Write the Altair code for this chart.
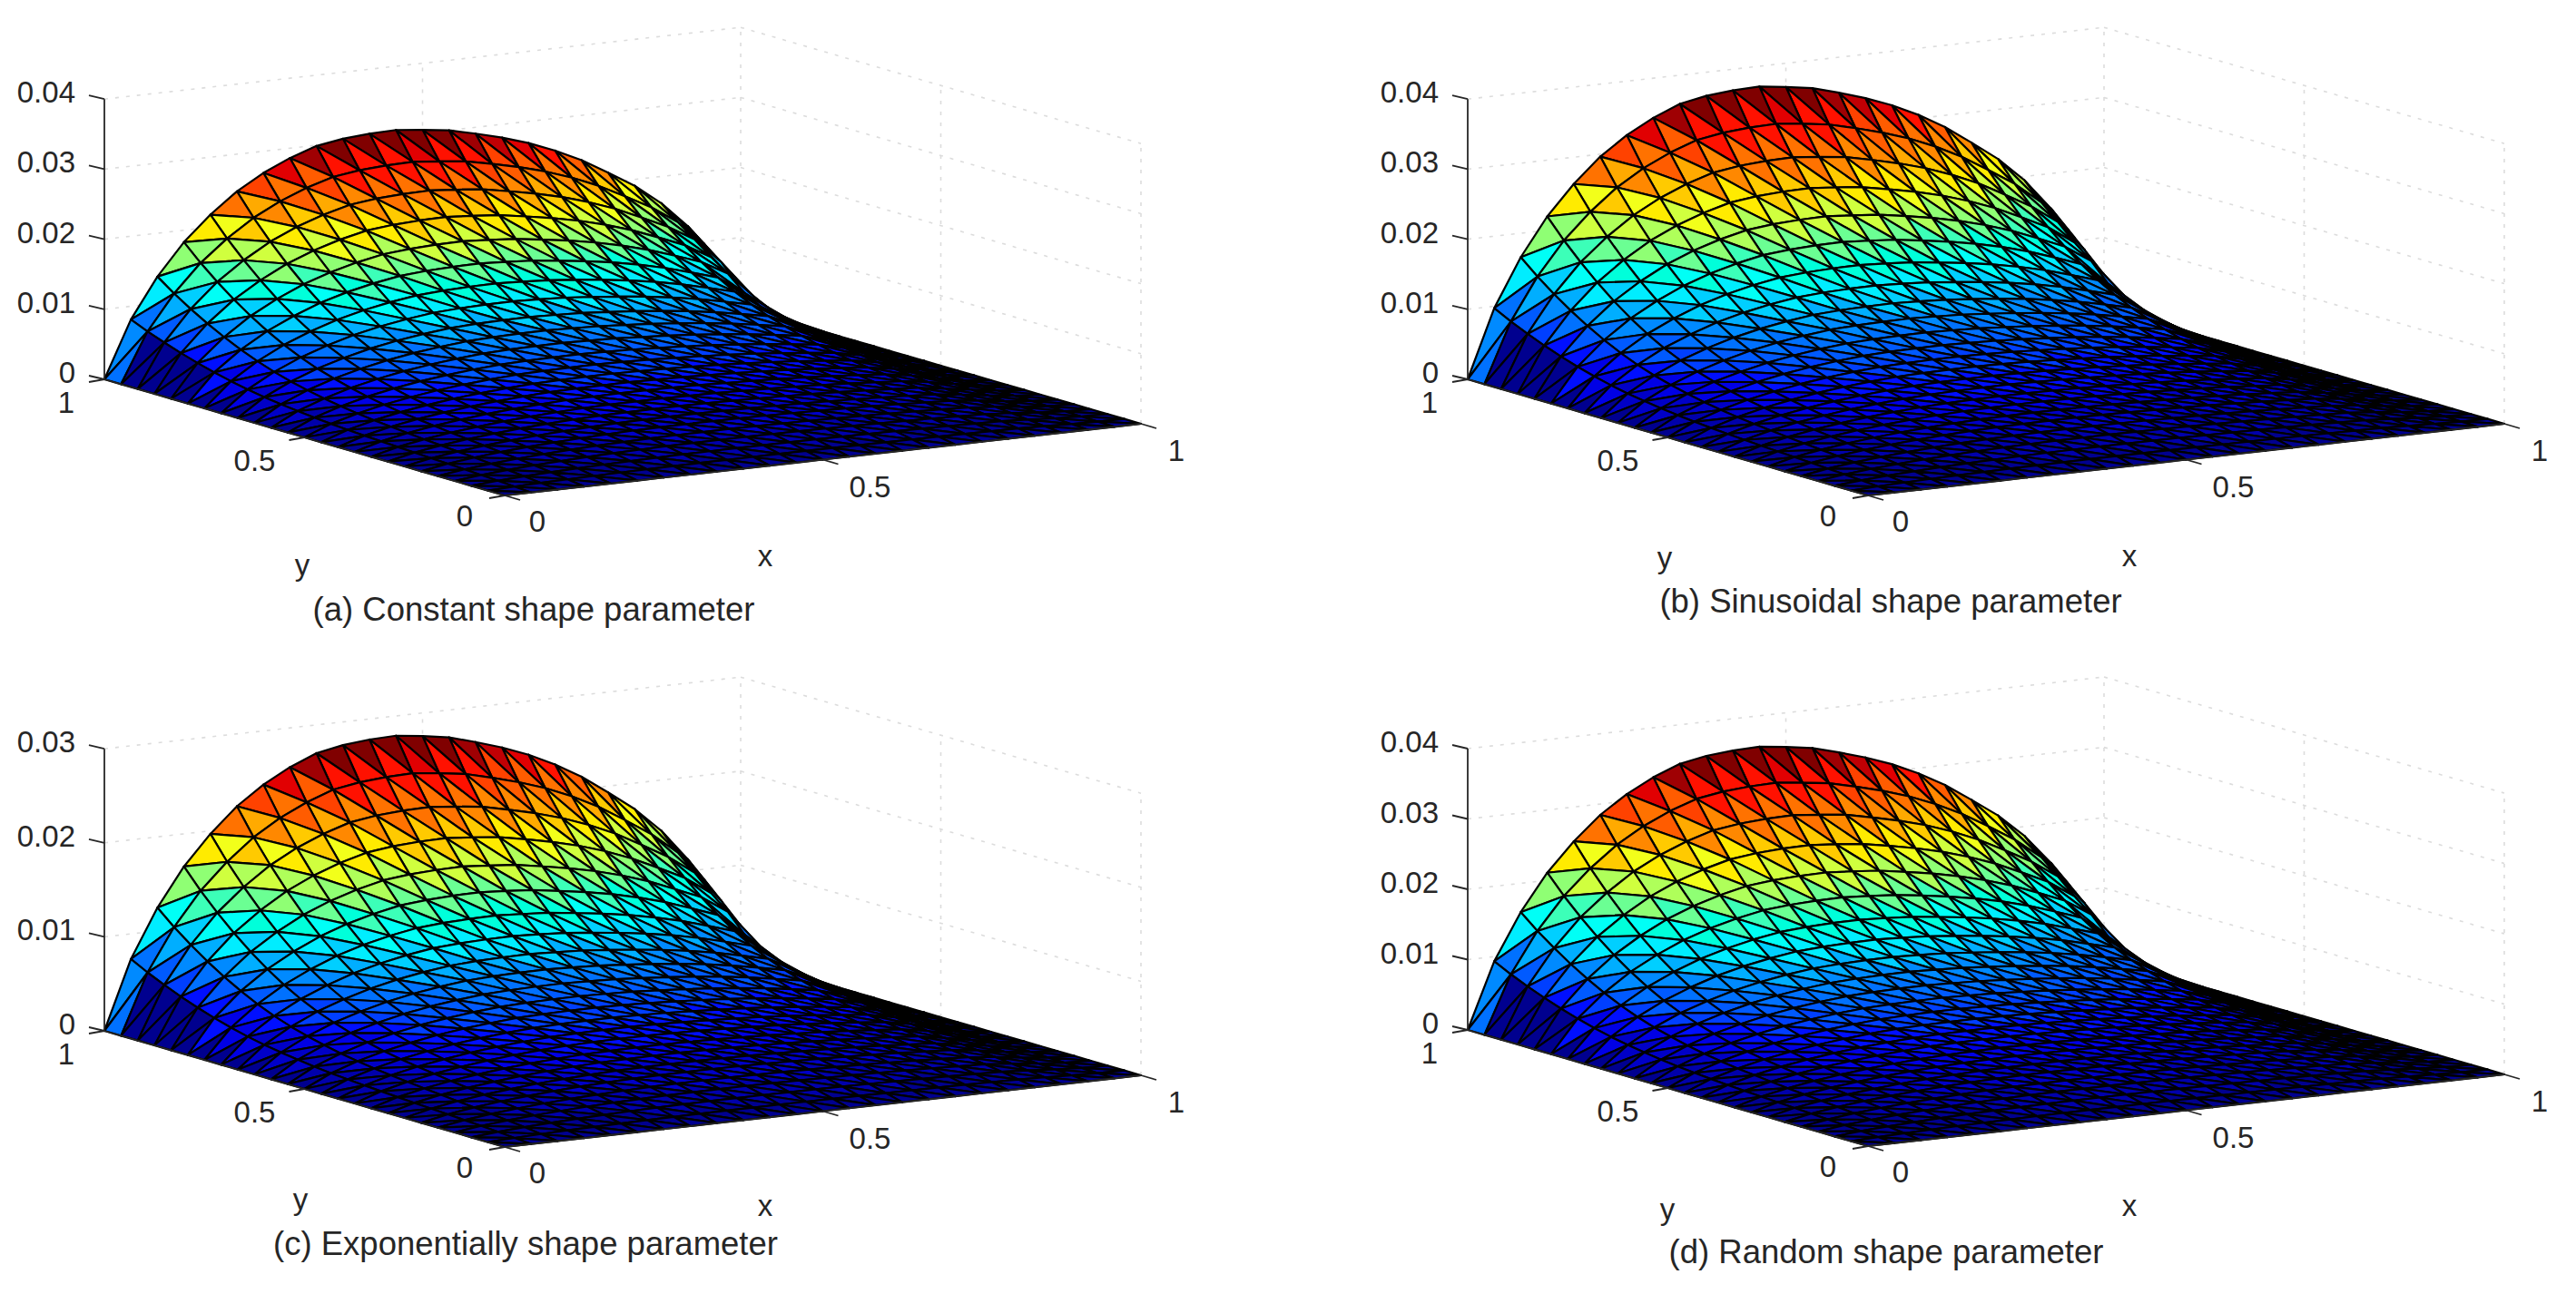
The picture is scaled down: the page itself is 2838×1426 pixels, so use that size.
import altair as alt
import pandas as pd

alt.data_transformers.disable_max_rows()

# ---- values ----
CELLS = 24
# height of panel (a) along the back edge y=1, x = 0 .. 1 in 24 steps
edge_profile = [0, .0081, .0138, .0183, .0218, .0247, .0269, .0286, .0299, .0305, .0308, .0309, .0305,
                .0300, .0291, .0281, .0269, .0254, .0236, .0214, .0191, .0162, .0125, .0079, 0]
# share of that edge height left when walking from y=1 to y=0 in 24 steps
falloff = [1, .875, .765, .665, .575, .495, .425, .365, .315, .275, .24, .21, .185, .165, .148, .133,
           .118, .105, .092, .08, .066, .052, .036, .018, 0]
falloff_k21 = [1, .875, .765, .65, .55, .42, .34, .30, .27, .24, .21, .19, .17, .15, .135, .12,
               .105, .09, .08, .07, .058, .045, .03, .015, 0]
falloff_k22 = [1, .85, .70, .50, .38, .30, .26, .23, .20, .18, .16, .145, .13, .115, .10, .09,
               .08, .07, .06, .05, .04, .03, .02, .01, 0]
falloff_k23 = [1, .70, .40, .31, .23, .19, .16, .14, .12, .105, .095, .085, .075, .065, .058, .05,
               .045, .04, .035, .03, .022, .016, .01, .005, 0]
column_falloff = {21: falloff_k21, 22: falloff_k22, 23: falloff_k23}

captions = ["(a) Constant shape parameter", "(b) Sinusoidal shape parameter",
            "(c) Exponentially shape parameter", "(d) Random shape parameter"]
peaks = [.0309, .0371, .0279, .0356]
z_tops = [[0, .01, .02, .03, .04], [0, .01, .02, .03, .04], [0, .01, .02, .03], [0, .01, .02, .03, .04]]
z_labels = [["0", "0.01", "0.02", "0.03", "0.04"], ["0", "0.01", "0.02", "0.03", "0.04"],
            ["0", "0.01", "0.02", "0.03"], ["0", "0.01", "0.02", "0.03", "0.04"]]
xy_ticks = [0, .5, 1]
xy_labels = ["0", "0.5", "1"]

# ---- layout ----
FRONT = [(556, 546), (2058, 546), (556, 1264), (2058, 1263)]
EX = (701, -79)
EY = (-441, -128)
Z_PX = [7720, 7720, 10360, 7750]
PANEL_W, PANEL_H = 1411, 705
PANEL_X0 = [8, 1419, 8, 1419]
PANEL_Y0 = [8, 8, 713, 713]
CAPTION_POS = [(588, 673), (2083, 664), (579, 1372), (2078, 1381)]
XLABEL_POS = [(843, 614), (2346, 614), (843, 1330), (2346, 1330)]
YLABEL_POS = [(333, 624), (1834, 616), (331, 1323), (1837, 1334)]
INK = "#262626"
GRID = "#dcdcdc"
FONT = "Liberation Sans"
TICK_SIZE = 33
CAPTION_SIZE = 36.5
COLOR_LEVELS = 32

jet_range = ["#00008f", "#0000ff", "#0080ff", "#00ffff", "#80ff80", "#ffff00", "#ff8000", "#ff0000", "#800000"]
jet_domain = [i / 8 for i in range(9)]


def height(k, n):
    return edge_profile[k] * column_falloff.get(k, falloff)[n]


def project(p, x, y, z):
    ox, oy = FRONT[p]
    return ox + EX[0] * x + EY[0] * y, oy + EX[1] * x + EY[1] * y - Z_PX[p] * z


def surface_rows(p):
    ratio = peaks[p] / max(edge_profile)
    top = max(edge_profile)
    rows = []
    tid = 0

    def add(verts, value):
        nonlocal tid
        level = int(min(value / top, 0.9999) * COLOR_LEVELS) / (COLOR_LEVELS - 1)
        for k, n in verts:
            px, py = project(p, k / CELLS, 1 - n / CELLS, height(k, n) * ratio)
            rows.append({"px": px, "py": py, "tri": tid, "level": level})
        tid += 1

    for n in range(CELLS):
        for k in reversed(range(CELLS)):
            va = (height(k, n) + height(k + 1, n)) / 2
            vb = height(k, n + 1)
            if k == 0:
                va = 0 if 1 <= n <= 4 else height(1, n)
                vb = height(1, 1) if n == 0 else 0
            add([(k, n), (k + 1, n), (k + 1, n + 1)], va)
            add([(k, n), (k, n + 1), (k + 1, n + 1)], vb)
    return rows


def segment(a, b):
    return {"px": a[0], "py": a[1], "px2": b[0], "py2": b[1]}


def panel(p):
    xs = alt.Scale(domain=[PANEL_X0[p], PANEL_X0[p] + PANEL_W], nice=False, zero=False)
    ys = alt.Scale(domain=[PANEL_Y0[p] + PANEL_H, PANEL_Y0[p]], nice=False, zero=False)
    X = alt.X("px:Q", scale=xs, axis=None)
    Y = alt.Y("py:Q", scale=ys, axis=None)
    zs = z_tops[p]
    ztop = zs[-1]

    grid = []
    for z in zs:
        grid.append(segment(project(p, 0, 1, z), project(p, 1, 1, z)))
        grid.append(segment(project(p, 1, 1, z), project(p, 1, 0, z)))
    for x, y in [(.5, 1), (1, 1), (1, .5), (1, 0)]:
        grid.append(segment(project(p, x, y, 0), project(p, x, y, ztop)))

    axes = [segment(project(p, 0, 1, 0), project(p, 0, 1, ztop)),
            segment(project(p, 0, 1, 0), project(p, 0, 0, 0)),
            segment(project(p, 0, 0, 0), project(p, 1, 0, 0))]
    texts = []
    for z, lab in zip(zs, z_labels[p]):
        a = project(p, 0, 1, z)
        axes.append(segment(a, (a[0] - 17, a[1] - 4)))
        texts.append({"px": a[0] - 32, "py": a[1] - 6, "t": lab, "al": "right"})
    y_off = [(-44, 24), (-55, 27), (-42, 27)]
    x_off = [(36, 30), (52, 31), (39, 31)]
    for v, lab, yo, xo in zip(xy_ticks, xy_labels, y_off, x_off):
        a = project(p, 0, v, 0)
        axes.append(segment(a, (a[0] - 17, a[1] + 3)))
        texts.append({"px": a[0] + yo[0], "py": a[1] + yo[1], "t": lab, "al": "center"})
        b = project(p, v, 0, 0)
        axes.append(segment(b, (b[0] + 17, b[1] + 5)))
        texts.append({"px": b[0] + xo[0], "py": b[1] + xo[1], "t": lab, "al": "center"})
    texts.append({"px": XLABEL_POS[p][0], "py": XLABEL_POS[p][1], "t": "x", "al": "center"})
    texts.append({"px": YLABEL_POS[p][0], "py": YLABEL_POS[p][1], "t": "y", "al": "center"})

    grid_layer = alt.Chart(pd.DataFrame(grid)).mark_rule(
        color=GRID, strokeWidth=1.6, strokeDash=[4, 8]
    ).encode(x=X, y=Y, x2="px2:Q", y2="py2:Q")

    surface = alt.Chart(pd.DataFrame(surface_rows(p))).mark_line(
        interpolate="linear-closed", stroke="black", strokeWidth=2.2, strokeJoin="round"
    ).encode(
        x=X, y=Y, detail="tri:N",
        fill=alt.Fill("level:Q", legend=None,
                      scale=alt.Scale(domain=jet_domain, range=jet_range, clamp=True)),
    )

    axis_layer = alt.Chart(pd.DataFrame(axes)).mark_rule(
        color=INK, strokeWidth=1.8
    ).encode(x=X, y=Y, x2="px2:Q", y2="py2:Q")

    tf = pd.DataFrame(texts)
    right = alt.Chart(tf[tf.al == "right"]).mark_text(
        font=FONT, fontSize=TICK_SIZE, color=INK, align="right", baseline="middle"
    ).encode(x=X, y=Y, text="t:N")
    center = alt.Chart(tf[tf.al == "center"]).mark_text(
        font=FONT, fontSize=TICK_SIZE, color=INK, align="center", baseline="middle"
    ).encode(x=X, y=Y, text="t:N")
    cap = alt.Chart(pd.DataFrame([{"px": CAPTION_POS[p][0], "py": CAPTION_POS[p][1], "t": captions[p]}])).mark_text(
        font=FONT, fontSize=CAPTION_SIZE, color=INK, align="center", baseline="middle"
    ).encode(x=X, y=Y, text="t:N")

    return alt.layer(grid_layer, surface, axis_layer, right, center, cap).properties(
        width=PANEL_W, height=PANEL_H
    ).resolve_scale(fill="independent")


chart = alt.vconcat(
    alt.hconcat(panel(0), panel(1), spacing=0),
    alt.hconcat(panel(2), panel(3), spacing=0),
    spacing=0,
).properties(padding=0, background="white").configure_view(stroke=None)

chart.save("out.html", embed_options={"renderer": "svg", "actions": False})
